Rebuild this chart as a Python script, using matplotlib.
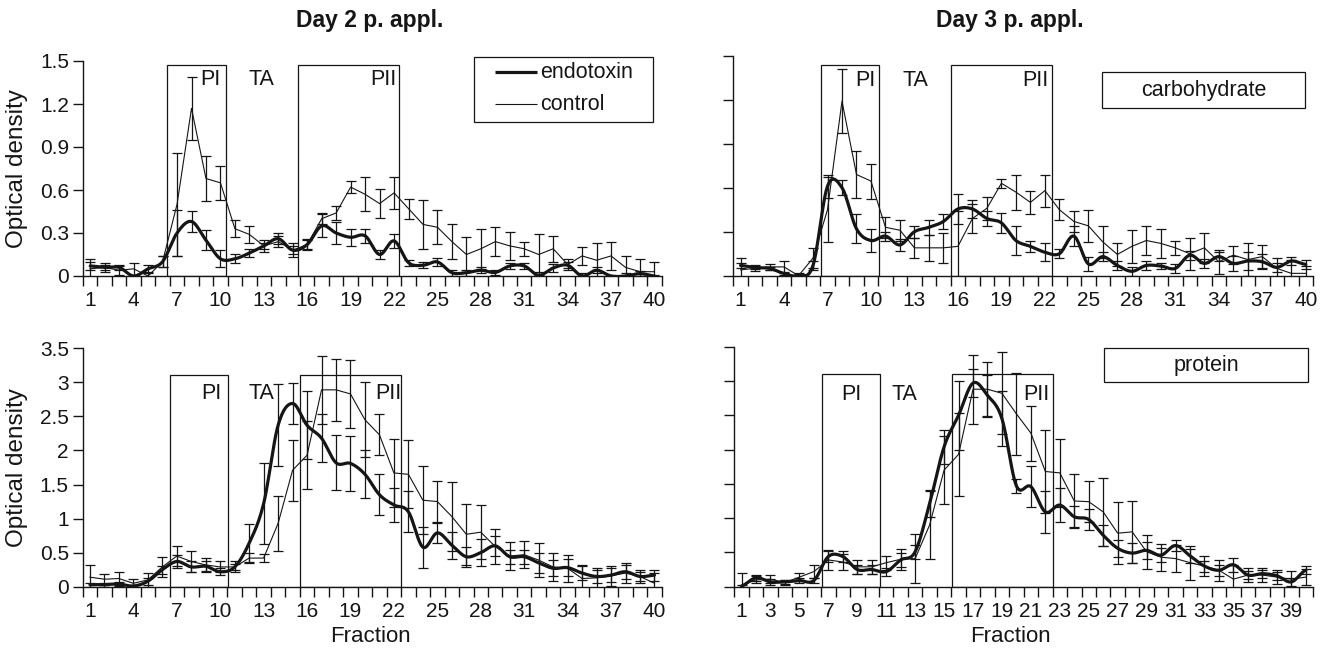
import numpy as np
import matplotlib
matplotlib.use("Agg")
import matplotlib.pyplot as plt
from matplotlib.patches import Rectangle
from matplotlib.lines import Line2D

plt.rcParams['font.family'] = ['Liberation Sans', 'DejaVu Sans']

# ---------------- data ----------------
fractions = np.arange(1, 41)

carb_d2_endo = [0.07, 0.06, 0.06, 0.0, 0.05, 0.10, 0.30, 0.38, 0.25, 0.12,
                0.12, 0.16, 0.21, 0.26, 0.18, 0.22, 0.35, 0.30, 0.27, 0.28,
                0.15, 0.245, 0.093, 0.075, 0.098, 0.023, 0.023, 0.04, 0.025, 0.07,
                0.07, 0.005, 0.056, 0.075, 0.0, 0.04, 0.0, 0.0, 0.017, 0.0]
carb_d2_endo_err = [0.03, 0.02, 0.02, 0.0, 0.03, 0.04, 0.16, 0.07, 0.07, 0.06,
                    0.03, 0.03, 0.02, 0.04, 0.03, 0.03, 0.08, 0.08, 0.06, 0.05,
                    0.03, 0.05, 0.02, 0.02, 0.03, 0.02, 0.02, 0.02, 0.02, 0.02,
                    0.02, 0.02, 0.03, 0.02, 0.02, 0.02, 0.01, 0.02, 0.02, 0.01]
carb_d2_ctrl = [0.05, 0.06, 0.04, 0.05, 0.0, 0.10, 0.50, 1.17, 0.68, 0.65,
                0.33, 0.29, 0.21, 0.24, 0.18, 0.22, 0.40, 0.44, 0.62, 0.57,
                0.505, 0.58, 0.47, 0.36, 0.34, 0.24, 0.15, 0.19, 0.24, 0.21,
                0.19, 0.15, 0.19, 0.08, 0.14, 0.11, 0.14, 0.06, 0.03, 0.03]
carb_d2_ctrl_err = [0.07, 0.03, 0.03, 0.04, 0.03, 0.04, 0.36, 0.22, 0.16, 0.12,
                    0.06, 0.06, 0.04, 0.04, 0.05, 0.04, 0.04, 0.05, 0.04, 0.12,
                    0.10, 0.11, 0.07, 0.17, 0.12, 0.12, 0.12, 0.14, 0.10, 0.10,
                    0.05, 0.14, 0.09, 0.04, 0.06, 0.12, 0.10, 0.08, 0.09, 0.07]

carb_d3_endo = [0.07, 0.055, 0.05, 0.015, 0.0, 0.07, 0.61, 0.60, 0.32, 0.24,
                0.27, 0.21, 0.30, 0.33, 0.37, 0.455, 0.455, 0.39, 0.36, 0.24,
                0.20, 0.16, 0.15, 0.27, 0.08, 0.13, 0.07, 0.03, 0.07, 0.066,
                0.05, 0.14, 0.084, 0.13, 0.084, 0.10, 0.095, 0.057, 0.10, 0.077]
carb_d3_endo_err = [0.02, 0.01, 0.01, 0.01, 0.01, 0.03, 0.08, 0.05, 0.10, 0.08,
                    0.03, 0.04, 0.04, 0.05, 0.05, 0.10, 0.06, 0.05, 0.07, 0.10,
                    0.04, 0.06, 0.03, 0.07, 0.05, 0.03, 0.03, 0.03, 0.03, 0.02,
                    0.03, 0.03, 0.03, 0.03, 0.05, 0.06, 0.05, 0.03, 0.03, 0.03]
carb_d3_ctrl = [0.04, 0.05, 0.06, 0.06, 0.0, 0.12, 0.45, 1.19, 0.69, 0.645,
                0.33, 0.31, 0.19, 0.19, 0.19, 0.20, 0.39, 0.46, 0.63, 0.57,
                0.50, 0.58, 0.45, 0.37, 0.34, 0.23, 0.145, 0.20, 0.24, 0.22,
                0.19, 0.15, 0.19, 0.095, 0.14, 0.11, 0.13, 0.05, 0.016, 0.016]
carb_d3_ctrl_err = [0.08, 0.02, 0.02, 0.04, 0.02, 0.07, 0.22, 0.22, 0.16, 0.12,
                    0.07, 0.07, 0.07, 0.09, 0.10, 0.24, 0.10, 0.08, 0.03, 0.12,
                    0.08, 0.11, 0.07, 0.07, 0.11, 0.11, 0.08, 0.11, 0.10, 0.10,
                    0.05, 0.11, 0.10, 0.08, 0.06, 0.11, 0.08, 0.07, 0.09, 0.05]

prot_d2_endo = [0.03, 0.03, 0.04, 0.01, 0.08, 0.25, 0.37, 0.29, 0.30, 0.22,
                0.29, 0.64, 1.22, 2.37, 2.69, 2.37, 2.18, 1.82, 1.81, 1.65,
                1.35, 1.20, 1.10, 0.58, 0.79, 0.61, 0.44, 0.50, 0.60, 0.44,
                0.44, 0.35, 0.27, 0.28, 0.20, 0.15, 0.17, 0.22, 0.15, 0.17]
prot_d2_endo_err = [0.03, 0.03, 0.03, 0.02, 0.05, 0.06, 0.10, 0.08, 0.07, 0.05,
                    0.05, 0.28, 0.60, 0.60, 0.30, 0.50, 0.35, 0.40, 0.40, 0.35,
                    0.30, 0.25, 0.30, 0.30, 0.15, 0.20, 0.15, 0.20, 0.15, 0.10,
                    0.10, 0.15, 0.12, 0.12, 0.10, 0.10, 0.10, 0.10, 0.06, 0.08]
prot_d2_ctrl = [0.14, 0.11, 0.12, 0.05, 0.10, 0.29, 0.45, 0.37, 0.32, 0.29,
                0.29, 0.42, 0.42, 0.93, 1.71, 1.93, 2.89, 2.89, 2.83, 2.45,
                2.23, 1.67, 1.65, 1.27, 1.25, 1.03, 0.77, 0.80, 0.59, 0.45,
                0.47, 0.39, 0.29, 0.27, 0.12, 0.13, 0.16, 0.20, 0.15, 0.05]
prot_d2_ctrl_err = [0.18, 0.08, 0.10, 0.06, 0.10, 0.15, 0.15, 0.15, 0.10, 0.08,
                    0.08, 0.07, 0.06, 0.40, 0.45, 0.50, 0.50, 0.45, 0.50, 0.55,
                    0.30, 0.50, 0.50, 0.50, 0.30, 0.50, 0.45, 0.40, 0.25, 0.20,
                    0.20, 0.25, 0.20, 0.20, 0.20, 0.15, 0.15, 0.15, 0.10, 0.15]

prot_d3_endo = [0.01, 0.13, 0.07, 0.07, 0.09, 0.09, 0.44, 0.44, 0.25, 0.25,
                0.22, 0.39, 0.51, 1.21, 2.04, 2.50, 2.97, 2.79, 2.45, 1.47,
                1.46, 1.09, 1.19, 1.02, 0.98, 0.75, 0.56, 0.49, 0.53, 0.46,
                0.60, 0.45, 0.30, 0.24, 0.32, 0.17, 0.19, 0.16, 0.07, 0.24]
prot_d3_endo_err = [0.02, 0.04, 0.04, 0.03, 0.03, 0.03, 0.08, 0.08, 0.06, 0.06,
                    0.06, 0.10, 0.10, 0.20, 0.25, 0.50, 0.20, 0.30, 0.40, 0.10,
                    0.30, 0.30, 0.25, 0.15, 0.15, 0.15, 0.12, 0.15, 0.12, 0.10,
                    0.08, 0.10, 0.08, 0.08, 0.10, 0.06, 0.06, 0.06, 0.06, 0.06]
prot_d3_ctrl = [0.02, 0.10, 0.11, 0.06, 0.14, 0.22, 0.39, 0.36, 0.29, 0.29,
                0.35, 0.40, 0.41, 0.90, 1.70, 1.93, 2.88, 2.88, 2.82, 2.52,
                2.24, 1.68, 1.66, 1.25, 1.24, 1.09, 0.78, 0.80, 0.51, 0.43,
                0.41, 0.35, 0.30, 0.24, 0.11, 0.17, 0.17, 0.14, 0.11, 0.14]
prot_d3_ctrl_err = [0.18, 0.05, 0.06, 0.04, 0.06, 0.10, 0.15, 0.12, 0.10, 0.10,
                    0.10, 0.15, 0.36, 0.50, 0.50, 0.60, 0.50, 0.40, 0.60, 0.60,
                    0.40, 0.60, 0.50, 0.40, 0.30, 0.50, 0.45, 0.45, 0.25, 0.20,
                    0.20, 0.25, 0.15, 0.15, 0.20, 0.10, 0.10, 0.10, 0.12, 0.12]

titles = ["Day 2 p. appl.", "Day 3 p. appl."]
series_labels = ["endotoxin", "control"]
region_labels = ["PI", "TA", "PII"]
carb_yticks = [0, 0.3, 0.6, 0.9, 1.2, 1.5]
carb_yticklabels = ["0", "0.3", "0.6", "0.9", "1.2", "1.5"]
prot_yticks = [0, 0.5, 1, 1.5, 2, 2.5, 3, 3.5]
prot_yticklabels = ["0", "0.5", "1", "1.5", "2", "2.5", "3", "3.5"]

# ---------------- styling ----------------
W, H = 1328, 651
INK = '#151515'
TICK_FS = 15
fig = plt.figure(figsize=(W / 100, H / 100), dpi=100)


def fx(px):
    return px / W


def fy(py):
    return 1 - py / H


def px_axes(left, top, right, bottom):
    return fig.add_axes([fx(left), fy(bottom), (right - left) / W, (bottom - top) / H])


def smooth(x, y, n=12):
    x = np.asarray(x, float)
    y = np.asarray(y, float)
    xs, ys = [], []
    m = len(y)
    for i in range(m - 1):
        p0 = y[i - 1] if i > 0 else y[i]
        p1, p2 = y[i], y[i + 1]
        p3 = y[i + 2] if i + 2 < m else y[i + 1]
        t = np.linspace(0, 1, n, endpoint=False)
        yy = 0.5 * ((2 * p1) + (-p0 + p2) * t + (2 * p0 - 5 * p1 + 4 * p2 - p3) * t ** 2
                    + (-p0 + 3 * p1 - 3 * p2 + p3) * t ** 3)
        xs.append(x[i] + (x[i + 1] - x[i]) * t)
        ys.append(yy)
    xs.append([x[-1]])
    ys.append([y[-1]])
    return np.concatenate(xs), np.concatenate(ys)


def style_axes(ax, ymax, yticks, yticklabels, xlabel_step, show_ylabels):
    ax.set_xlim(0.5, 40.5)
    ax.set_ylim(0, ymax)
    for s in ['top', 'right']:
        ax.spines[s].set_visible(False)
    for s in ['left', 'bottom']:
        ax.spines[s].set_linewidth(1.0)
        ax.spines[s].set_color(INK)
    bounds = np.arange(0.5, 41, 1.0)
    ax.set_xticks(bounds)
    ax.set_xticklabels([])
    centers = fractions[::xlabel_step]
    ax.set_xticks(centers, minor=True)
    ax.set_xticklabels([str(c) for c in centers], minor=True)
    ax.tick_params(axis='x', which='major', direction='out', length=7, width=1.0, color=INK)
    ax.tick_params(axis='x', which='minor', length=0, pad=11, labelsize=TICK_FS, labelcolor=INK)
    ax.set_yticks(yticks)
    if show_ylabels:
        ax.set_yticklabels(yticklabels)
    else:
        ax.set_yticklabels([])
    ax.tick_params(axis='y', direction='out', length=7, width=1.0, color=INK,
                   labelsize=TICK_FS, labelcolor=INK, pad=3)
    ax.patch.set_alpha(0)


def draw_series(ax, endo, endo_err, ctrl, ctrl_err):
    ax.errorbar(fractions, ctrl, yerr=ctrl_err, fmt='none', ecolor=INK,
                elinewidth=0.9, capsize=3.8, capthick=0.9, zorder=3)
    ax.errorbar(fractions, endo, yerr=endo_err, fmt='none', ecolor=INK,
                elinewidth=0.9, capsize=3.8, capthick=0.9, zorder=3)
    ax.plot(fractions, ctrl, color=INK, lw=0.8, zorder=4)
    xs, ys = smooth(fractions, endo)
    ax.plot(xs, ys, color=INK, lw=2.3, solid_capstyle='round',
            solid_joinstyle='round', zorder=5)


def draw_regions(ax, pi, pii, top, label_pos, fs=15.5):
    for (a, b) in (pi, pii):
        ax.add_patch(Rectangle((a, 0), b - a, top, fill=False, ec=INK, lw=0.9, zorder=2))
    for lab, (x, y) in zip(region_labels, label_pos):
        ax.text(x, y, lab, ha='center', va='center', fontsize=fs, color=INK, zorder=6)


# top-left: carbohydrate day 2
ax1 = px_axes(83, 61, 661.7, 276)
style_axes(ax1, 1.5, carb_yticks, carb_yticklabels, 3, True)
draw_regions(ax1, (6.33, 10.36), (15.34, 22.36), 1.47,
             [(9.28, 1.37), (12.85, 1.37), (21.25, 1.37)])
draw_series(ax1, carb_d2_endo, carb_d2_endo_err, carb_d2_ctrl, carb_d2_ctrl_err)

# top-right: carbohydrate day 3
ax2 = px_axes(733.3, 55.7, 1313, 275.7)
style_axes(ax2, 1.5, carb_yticks, carb_yticklabels, 3, False)
draw_regions(ax2, (6.53, 10.56), (15.5, 22.47), 1.437,
             [(9.59, 1.334), (13.09, 1.334), (21.37, 1.334)])
draw_series(ax2, carb_d3_endo, carb_d3_endo_err, carb_d3_ctrl, carb_d3_ctrl_err)

# bottom-left: protein day 2
ax3 = px_axes(82.7, 348.3, 661.7, 586.7)
style_axes(ax3, 3.5, prot_yticks, prot_yticklabels, 3, True)
draw_regions(ax3, (6.56, 10.54), (15.54, 22.52), 3.11,
             [(9.39, 2.84), (12.85, 2.84), (21.6, 2.84)])
draw_series(ax3, prot_d2_endo, prot_d2_endo_err, prot_d2_ctrl, prot_d2_ctrl_err)

# bottom-right: protein day 3
ax4 = px_axes(734.3, 346.7, 1313, 586.7)
style_axes(ax4, 3.5, prot_yticks, prot_yticklabels, 2, False)
draw_regions(ax4, (6.55, 10.56), (15.55, 22.52), 3.10,
             [(8.6, 2.80), (12.28, 2.80), (21.37, 2.80)])
draw_series(ax4, prot_d3_endo, prot_d3_endo_err, prot_d3_ctrl, prot_d3_ctrl_err)

# legend (top-left panel), drawn as a framed key
fig.add_artist(Rectangle((fx(474), fy(122)), 179 / W, 65 / H, transform=fig.transFigure,
                         fill=False, ec=INK, lw=0.9))
for (ly, lw_, lab) in ((72, 2.3, series_labels[0]), (104, 0.8, series_labels[1])):
    fig.add_artist(Line2D([fx(495), fx(537)], [fy(ly), fy(ly)], transform=fig.transFigure,
                          color=INK, lw=lw_, solid_capstyle='butt'))
    fig.text(fx(540), fy(ly), lab, ha='left', va='center', fontsize=15.5, color=INK)


# boxed panel labels
def fig_box(left, top, right, bottom, text):
    fig.add_artist(Rectangle((fx(left), fy(bottom)), (right - left) / W, (bottom - top) / H,
                             transform=fig.transFigure, fill=False, ec=INK, lw=0.9))
    fig.text(fx((left + right) / 2), fy((top + bottom) / 2), text, ha='center', va='center',
             fontsize=15.5, color=INK)


fig_box(1101.7, 72.3, 1305.3, 108.3, "carbohydrate")
fig_box(1104.3, 348.3, 1308.3, 381.7, "protein")

# titles and axis labels
fig.text(fx(370), fy(20), titles[0], ha='center', va='center', fontsize=16.5,
         fontweight='bold', color=INK)
fig.text(fx(1010), fy(20), titles[1], ha='center', va='center', fontsize=16.5,
         fontweight='bold', color=INK)
for yc in (168.5, 467.5):
    fig.text(fx(17.5), fy(yc), "Optical density", rotation=90, ha='center', va='center',
             fontsize=17.5, color=INK)
for xc in (370, 1010):
    fig.text(fx(xc), fy(637), "Fraction", ha='center', va='center', fontsize=16, color=INK)

fig.savefig("out.png", dpi=100)
